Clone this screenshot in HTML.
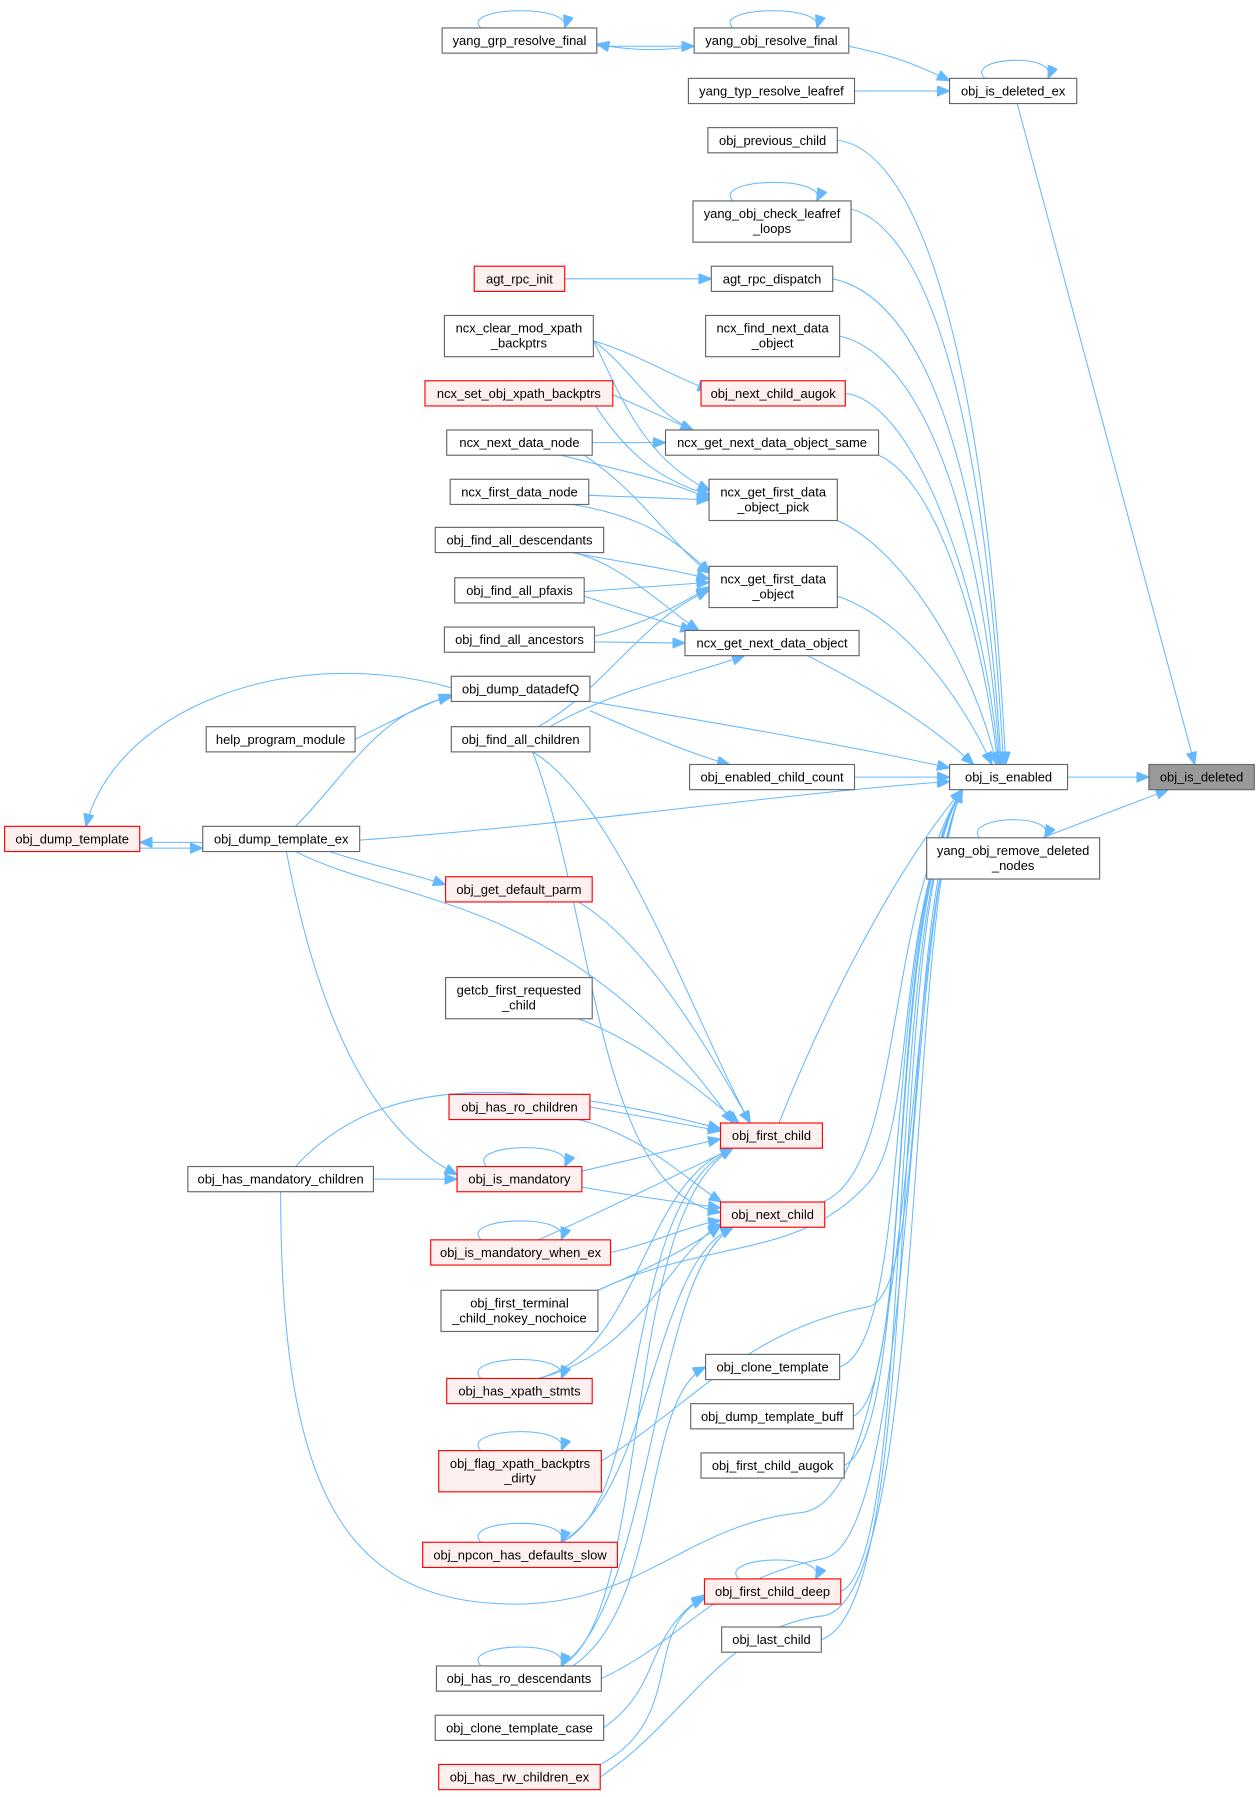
<!DOCTYPE html>
<html><head><meta charset="utf-8"><style>
html,body{margin:0;padding:0;background:#fff;}
svg{display:block;}
text{font-family:"Liberation Sans",sans-serif;font-size:11.3px;fill:#000;text-anchor:middle;}
.n{fill:#fff;stroke:#666;stroke-width:1;}
.r{fill:#fff0f0;stroke:#f00;stroke-width:1;}
.g{fill:#999;stroke:#666;stroke-width:1;}
path.e{fill:none;stroke:#63b8ff;stroke-width:0.9;marker-end:url(#a);}
</style></head><body>
<svg width="1260" height="1797" viewBox="0 0 1100 1568" xmlns="http://www.w3.org/2000/svg">
<defs><marker id="a" markerUnits="userSpaceOnUse" markerWidth="12" markerHeight="10" refX="11" refY="4.5" orient="auto"><path d="M0,0 L11,4.5 L0,9 z" fill="#63b8ff" stroke="#63b8ff"/></marker></defs>

<!-- edges -->
<path class="e" d="M606,40 C580,44 550,44 521,38"/>
<path class="e" d="M521,40 C550,40 580,40 606,40"/>
<path class="e" d="M420,24 C400,6 500,2 493,24"/>
<path class="e" d="M640,24 C620,6 720,2 713,24"/>
<path class="e" d="M860,68 C840,50 925,44 915,68"/>
<path class="e" d="M741,40 C780,48 800,56 829,70"/>
<path class="e" d="M746,79 L829,79"/>
<path class="e" d="M888,90 L1043,667"/>
<path class="e" d="M932,678 L1003,678"/>
<path class="e" d="M910,731 L1020,689"/>
<path class="e" d="M855,731 C840,712 925,708 912,731"/>
<path class="e" d="M640,175 C620,155 725,152 713,175"/>
<path class="e" d="M493,243 L621,243"/>

<!-- to obj_is_enabled -->
<path class="e" d="M731,122 C800,130 860,300 878,667"/>
<path class="e" d="M743,182 C810,200 860,360 876,667"/>
<path class="e" d="M727,243 C810,260 860,420 874,667"/>
<path class="e" d="M733,293 C810,310 860,470 873,667"/>
<path class="e" d="M738,343 C800,350 860,520 872,667"/>
<path class="e" d="M767,397 C820,420 860,560 871,667"/>
<path class="e" d="M731,454 C790,480 850,580 870,667"/>
<path class="e" d="M731,520 C790,540 840,610 866,667"/>
<path class="e" d="M705,572 C760,600 810,630 850,667"/>
<path class="e" d="M515,612 C620,630 740,650 829,670"/>
<path class="e" d="M746,678 L829,678"/>
<path class="e" d="M314,733 C500,720 700,690 829,682"/>
<path class="e" d="M680,980 C720,880 780,760 840,689"/>
<path class="e" d="M718,1049 C790,1020 770,800 840,689"/>
<path class="e" d="M733,1193 C800,1170 770,800 840,689"/>
<path class="e" d="M745,1236 C800,1210 770,800 840,689"/>
<path class="e" d="M737,1279 C800,1250 770,800 840,689"/>
<path class="e" d="M734,1389 C800,1360 770,800 840,689"/>
<path class="e" d="M717,1431 C810,1400 770,800 840,689"/>
<path class="e" d="M522,1126 C620,1080 700,1100 760,1030 C800,980 780,800 840,689"/>
<path class="e" d="M525,1275 C600,1230 650,1160 760,1140 C810,1120 790,800 840,689"/>
<path class="e" d="M245,1040 C245,1300 300,1400 450,1400 C560,1400 600,1330 700,1320 C800,1310 790,800 840,689"/>
<path class="e" d="M525,1465 C600,1430 620,1380 720,1360 C800,1340 790,800 840,689"/>
<path class="e" d="M524,1551 C600,1500 630,1420 720,1410 C810,1390 790,800 840,689"/>

<!-- ncx group -->
<path class="e" d="M518,297 C550,320 570,360 605,375"/>
<path class="e" d="M518,297 C540,340 560,400 620,428"/>
<path class="e" d="M518,297 C560,310 590,330 620,340"/>
<path class="e" d="M520,338 C550,350 570,360 605,375"/>
<path class="e" d="M520,354 C550,400 580,420 620,432"/>
<path class="e" d="M517,386 L581,386"/>
<path class="e" d="M490,397 C540,410 590,420 620,436"/>
<path class="e" d="M510,397 C560,430 590,480 620,500"/>
<path class="e" d="M514,432 L619,436"/>
<path class="e" d="M500,440 C560,450 590,470 620,500"/>
<path class="e" d="M500,482 C540,490 580,495 619,505"/>
<path class="e" d="M500,482 C540,490 580,530 610,550"/>
<path class="e" d="M510,516 L619,508"/>
<path class="e" d="M510,520 C540,530 570,540 605,550"/>
<path class="e" d="M519,555 C560,545 590,530 619,512"/>
<path class="e" d="M519,560 L598,561"/>
<path class="e" d="M470,634 C530,600 560,540 619,515"/>
<path class="e" d="M480,634 C540,600 600,590 650,572"/>
<path class="e" d="M515,620 C560,640 610,660 637,667"/>

<!-- dump -->
<path class="e" d="M394,600 C250,560 100,620 75,721"/>
<path class="e" d="M310,645 C340,630 370,615 394,606"/>
<path class="e" d="M258,721 C300,680 330,620 394,608"/>
<path class="e" d="M177,735 L122,735"/>
<path class="e" d="M122,740 L177,740"/>
<path class="e" d="M258,732 C300,750 360,762 389,772"/>
<path class="e" d="M258,743 C350,790 500,780 640,980"/>
<path class="e" d="M250,743 C280,900 330,990 399,1025"/>
<path class="e" d="M326,1029 L399,1029"/>
<path class="e" d="M258,1018 C320,950 420,930 629,985"/>

<!-- to first/next child -->
<path class="e" d="M505,787 C560,820 610,900 655,980"/>
<path class="e" d="M505,889 C560,910 610,950 645,980"/>
<path class="e" d="M515,966 L629,987"/>
<path class="e" d="M505,977 C560,990 600,1030 630,1049"/>
<path class="e" d="M508,1022 C560,1010 600,1000 629,994"/>
<path class="e" d="M508,1036 C560,1045 600,1050 629,1054"/>
<path class="e" d="M533,1093 C570,1085 600,1070 629,1065"/>
<path class="e" d="M470,1082 C520,1060 580,1030 640,1002"/>
<path class="e" d="M522,1126 C560,1110 600,1090 629,1070"/>
<path class="e" d="M470,1203 C560,1180 560,1030 640,1002"/>
<path class="e" d="M470,1203 C560,1180 580,1100 629,1068"/>
<path class="e" d="M490,1346 C570,1310 540,1050 640,1002"/>
<path class="e" d="M490,1346 C570,1300 570,1100 640,1071"/>
<path class="e" d="M490,1454 C570,1410 540,1060 640,1002"/>
<path class="e" d="M490,1454 C570,1400 570,1110 640,1071"/>
<path class="e" d="M465,656 C540,700 610,900 655,980"/>
<path class="e" d="M465,656 C520,800 520,1040 629,1058"/>

<!-- self loops -->
<path class="e" d="M425,1018 C405,998 505,994 493,1018"/>
<path class="e" d="M420,1082 C400,1062 500,1058 490,1082"/>
<path class="e" d="M420,1203 C400,1183 500,1179 490,1203"/>
<path class="e" d="M420,1266 C400,1246 500,1242 490,1266"/>
<path class="e" d="M420,1346 C400,1326 500,1322 490,1346"/>
<path class="e" d="M645,1378 C625,1358 725,1354 712,1378"/>
<path class="e" d="M420,1454 C400,1434 500,1430 490,1454"/>
<path class="e" d="M500,1454 C580,1400 560,1220 616,1193"/>
<path class="e" d="M524,1540 C600,1500 560,1420 615,1395"/>
<path class="e" d="M527,1508 C580,1470 560,1430 615,1392"/>

<!-- nodes -->
<rect class="n" x="386" y="24" width="135" height="22"/><text x="453.5" y="39">yang_grp_resolve_final</text>
<rect class="n" x="606" y="24" width="135" height="22"/><text x="673.5" y="39">yang_obj_resolve_final</text>
<rect class="n" x="829" y="68" width="111" height="22"/><text x="884.5" y="83">obj_is_deleted_ex</text>
<rect class="n" x="601" y="68" width="145" height="22"/><text x="673.5" y="83">yang_typ_resolve_leafref</text>
<rect class="n" x="618" y="111" width="113" height="22"/><text x="674.5" y="126">obj_previous_child</text>
<rect class="n" x="605" y="175" width="138" height="36"/><text x="674" y="190">yang_obj_check_leafref</text><text x="674" y="203">_loops</text>
<rect class="r" x="414" y="232" width="79" height="22"/><text x="453.5" y="247">agt_rpc_init</text>
<rect class="n" x="621" y="232" width="106" height="22"/><text x="674" y="247">agt_rpc_dispatch</text>
<rect class="n" x="388" y="275" width="130" height="36"/><text x="453" y="290">ncx_clear_mod_xpath</text><text x="453" y="303">_backptrs</text>
<rect class="n" x="616" y="275" width="117" height="36"/><text x="674.5" y="290">ncx_find_next_data</text><text x="674.5" y="303">_object</text>
<rect class="r" x="371" y="332" width="164" height="22"/><text x="453" y="347">ncx_set_obj_xpath_backptrs</text>
<rect class="r" x="612" y="332" width="126" height="22"/><text x="675" y="347">obj_next_child_augok</text>
<rect class="n" x="390" y="375" width="127" height="22"/><text x="453.5" y="390">ncx_next_data_node</text>
<rect class="n" x="581" y="375" width="186" height="22"/><text x="674" y="390">ncx_get_next_data_object_same</text>
<rect class="n" x="393" y="418" width="121" height="22"/><text x="453.5" y="433">ncx_first_data_node</text>
<rect class="n" x="619" y="418" width="112" height="36"/><text x="675" y="433">ncx_get_first_data</text><text x="675" y="446">_object_pick</text>
<rect class="n" x="380" y="460" width="147" height="22"/><text x="453.5" y="475">obj_find_all_descendants</text>
<rect class="n" x="619" y="494" width="112" height="36"/><text x="675" y="509">ncx_get_first_data</text><text x="675" y="522">_object</text>
<rect class="n" x="397" y="504" width="113" height="22"/><text x="453.5" y="519">obj_find_all_pfaxis</text>
<rect class="n" x="388" y="547" width="131" height="22"/><text x="453.5" y="562">obj_find_all_ancestors</text>
<rect class="n" x="598" y="550" width="152" height="22"/><text x="674" y="565">ncx_get_next_data_object</text>
<rect class="n" x="394" y="590" width="121" height="22"/><text x="454.5" y="605">obj_dump_datadefQ</text>
<rect class="n" x="180" y="634" width="130" height="22"/><text x="245" y="649">help_program_module</text>
<rect class="n" x="394" y="634" width="121" height="22"/><text x="454.5" y="649">obj_find_all_children</text>
<rect class="n" x="602" y="667" width="144" height="22"/><text x="674" y="682">obj_enabled_child_count</text>
<rect class="n" x="829" y="667" width="103" height="22"/><text x="880.5" y="682">obj_is_enabled</text>
<rect class="g" x="1003" y="667" width="92" height="22"/><text x="1049" y="682">obj_is_deleted</text>
<rect class="r" x="4" y="721" width="118" height="22"/><text x="63" y="736">obj_dump_template</text>
<rect class="n" x="177" y="721" width="137" height="22"/><text x="245.5" y="736">obj_dump_template_ex</text>
<rect class="n" x="809" y="731" width="151" height="36"/><text x="884.5" y="746">yang_obj_remove_deleted</text><text x="884.5" y="759">_nodes</text>
<rect class="r" x="389" y="765" width="128" height="22"/><text x="453" y="780">obj_get_default_parm</text>
<rect class="n" x="389" y="853" width="128" height="36"/><text x="453" y="868">getcb_first_requested</text><text x="453" y="881">_child</text>
<rect class="r" x="392" y="955" width="123" height="22"/><text x="453.5" y="970">obj_has_ro_children</text>
<rect class="r" x="629" y="980" width="89" height="22"/><text x="673.5" y="995">obj_first_child</text>
<rect class="n" x="164" y="1018" width="162" height="22"/><text x="245" y="1033">obj_has_mandatory_children</text>
<rect class="r" x="399" y="1018" width="109" height="22"/><text x="453.5" y="1033">obj_is_mandatory</text>
<rect class="r" x="629" y="1049" width="91" height="22"/><text x="674.5" y="1064">obj_next_child</text>
<rect class="r" x="376" y="1082" width="157" height="22"/><text x="454.5" y="1097">obj_is_mandatory_when_ex</text>
<rect class="n" x="385" y="1126" width="137" height="36"/><text x="453.5" y="1141">obj_first_terminal</text><text x="453.5" y="1154">_child_nokey_nochoice</text>
<rect class="n" x="616" y="1182" width="117" height="22"/><text x="674.5" y="1197">obj_clone_template</text>
<rect class="r" x="390" y="1203" width="127" height="22"/><text x="453.5" y="1218">obj_has_xpath_stmts</text>
<rect class="n" x="603" y="1225" width="142" height="22"/><text x="674" y="1240">obj_dump_template_buff</text>
<rect class="r" x="383" y="1266" width="142" height="36"/><text x="454" y="1281">obj_flag_xpath_backptrs</text><text x="454" y="1294">_dirty</text>
<rect class="n" x="612" y="1268" width="125" height="22"/><text x="674.5" y="1283">obj_first_child_augok</text>
<rect class="r" x="369" y="1346" width="170" height="22"/><text x="454" y="1361">obj_npcon_has_defaults_slow</text>
<rect class="r" x="615" y="1378" width="119" height="22"/><text x="674.5" y="1393">obj_first_child_deep</text>
<rect class="n" x="630" y="1420" width="87" height="22"/><text x="673.5" y="1435">obj_last_child</text>
<rect class="n" x="381" y="1454" width="144" height="22"/><text x="453" y="1469">obj_has_ro_descendants</text>
<rect class="n" x="380" y="1497" width="147" height="22"/><text x="453.5" y="1512">obj_clone_template_case</text>
<rect class="r" x="383" y="1540" width="141" height="22"/><text x="453.5" y="1555">obj_has_rw_children_ex</text>
</svg>
</body></html>
